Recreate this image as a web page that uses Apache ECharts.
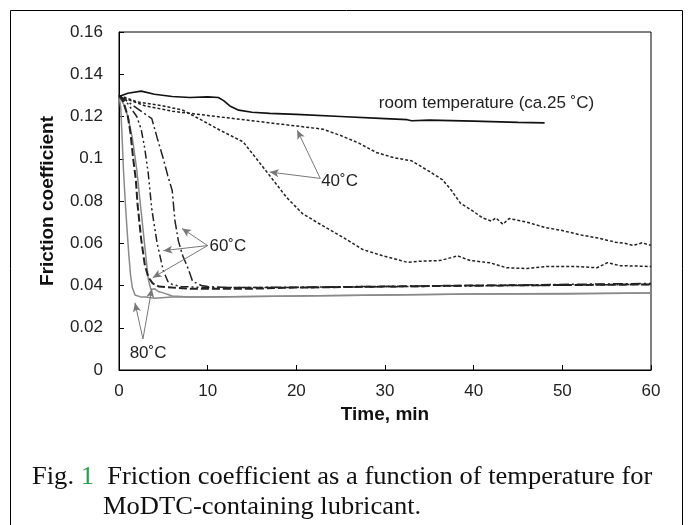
<!DOCTYPE html>
<html><head><meta charset="utf-8">
<script src="https://cdn.jsdelivr.net/npm/echarts@6/dist/echarts.min.js"></script>
<style>html,body{margin:0;padding:0;background:#fff}#c{width:692px;height:525px}</style>
</head><body><div id="c"></div>
<script>
const xTicks = [0, 10, 20, 30, 40, 50, 60];
const yTicks = [0, 0.02, 0.04, 0.06, 0.08, 0.1, 0.12, 0.14, 0.16];

const roomTemp = [[0,0.1295],[1,0.131],[2.5,0.132],[4,0.1305],[6,0.1295],[8,0.129],[10,0.1293],[11.2,0.129],[11.8,0.1275],[12.5,0.125],[13.5,0.123],[15,0.122],[17,0.1215],[20,0.121],[25,0.12],[30,0.119],[32.5,0.1185],[33,0.118],[35,0.1183],[40,0.1178],[45,0.1172],[48,0.117]];

const t40a = [[0,0.129],[1,0.128],[3,0.125],[6,0.1225],[10,0.1205],[15,0.118],[20,0.1155],[23,0.114],[25,0.111],[27,0.1075],[29,0.103],[31,0.1005],[33,0.099],[35,0.094],[36.5,0.09],[37.5,0.085],[38.5,0.079],[40,0.075],[41,0.072],[42,0.0705],[42.5,0.072],[43.3,0.069],[44,0.0717],[46,0.07],[48,0.0675],[50,0.066],[52,0.064],[54,0.0625],[56,0.0605],[57,0.06],[58,0.059],[59,0.0602],[60,0.059]];

const t40b = [[0,0.13],[2,0.127],[5,0.125],[7.2,0.123],[9,0.119],[11.4,0.1135],[14,0.108],[15.5,0.1],[17,0.092],[18.9,0.0817],[20.7,0.074],[22.7,0.069],[25.3,0.0627],[27.5,0.057],[29.8,0.054],[32.5,0.051],[34,0.0515],[36.2,0.0518],[38.2,0.054],[39.6,0.0518],[41.8,0.0508],[43.7,0.0484],[46,0.048],[48.2,0.049],[51.6,0.049],[53.9,0.0484],[55.1,0.0508],[56.5,0.0494],[60,0.049]];

const t60a = [[0,0.13],[0.5,0.127],[1,0.12],[1.3,0.112],[1.6,0.1],[1.9,0.09],[2.1,0.078],[2.5,0.062],[2.9,0.05],[3.3,0.044],[3.8,0.041],[4.5,0.0395],[6,0.039],[8,0.0385],[10,0.0385],[15,0.0385],[20,0.039],[30,0.0395],[40,0.04],[50,0.0402],[60,0.0405]];

const t60b = [[0,0.13],[1,0.126],[2,0.12],[2.5,0.114],[2.9,0.105],[3.3,0.093],[3.7,0.076],[4.3,0.06],[5,0.047],[5.5,0.042],[6,0.0405],[7,0.0395],[10,0.039],[20,0.039],[40,0.0398],[60,0.0405]];

const t60c = [[0,0.13],[1,0.127],[2,0.124],[3,0.121],[3.7,0.119],[4.3,0.11],[5,0.1],[5.5,0.092],[6,0.085],[6.3,0.071],[6.7,0.061],[7.2,0.054],[7.8,0.048],[8.3,0.042],[9.3,0.04],[10,0.0395],[12,0.039],[20,0.0392],[40,0.04],[60,0.041]];

const t80a = [[0,0.13],[0.2,0.124],[0.35,0.11],[0.5,0.095],[0.7,0.08],[0.9,0.067],[1.1,0.055],[1.3,0.045],[1.5,0.039],[1.8,0.0355],[2.5,0.0345],[3,0.0345],[4,0.034],[6,0.0345],[10,0.0345],[20,0.035],[30,0.0355],[40,0.036],[50,0.036],[60,0.0365]];

const t80b = [[0,0.13],[0.5,0.126],[1,0.12],[1.5,0.11],[2,0.095],[2.5,0.075],[3,0.055],[3.3,0.043],[3.6,0.038],[4,0.0385],[4.5,0.037],[5,0.0365],[6,0.035],[8,0.0345],[10,0.0345],[20,0.035],[40,0.036],[60,0.0365]];

const labels = [
  {name:'room temperature (ca.25 ˚C)', coord:[29.3,0.1262]},
  {name:'40˚C', coord:[22.8,0.0893]},
  {name:'60˚C', coord:[10.2,0.0587]},
  {name:'80˚C', coord:[1.2,0.0078]}
];
const arrows = [
  [[22.7,0.0907],[20.1,0.1135]],
  [[22.7,0.0907],[17.0,0.0937]],
  [[10.0,0.0589],[7.1,0.067]],
  [[10.0,0.0589],[5.0,0.0565]],
  [[10.0,0.0589],[3.8,0.0437]],
  [[2.7,0.0147],[1.8,0.0318]],
  [[2.7,0.0147],[3.7,0.0385]]
];

const chart = echarts.init(document.getElementById('c'), null, {renderer:'canvas'});
const F = 'Liberation Sans, Arial, sans-serif';
const SERIF = '"Liberation Serif", "Times New Roman", serif';
function line(data, color, width, type){
  return {type:'line', data, showSymbol:false, symbol:'none', smooth:false,
    lineStyle:{color, width, type}, animation:false, z:3};
}
chart.setOption({
  animation:false,
  grid:{left:119, right:41, top:32, bottom:155, show:true, borderColor:'#000', borderWidth:1},
  xAxis:{type:'value', min:0, max:60, interval:10,
    name:'Time, min', nameLocation:'middle', nameGap:32,
    nameTextStyle:{fontFamily:F, fontSize:19, fontWeight:'bold', color:'#111'},
    axisLine:{lineStyle:{color:'#000', width:1}},
    axisTick:{inside:true, length:5, lineStyle:{color:'#000'}},
    axisLabel:{fontFamily:F, fontSize:17, color:'#222', margin:13,
      formatter: v => xTicks.includes(v) ? String(v) : ''},
    splitLine:{show:false}},
  yAxis:{type:'value', min:0, max:0.16, interval:0.02,
    name:'Friction coefficient', nameLocation:'middle', nameGap:62,
    nameTextStyle:{fontFamily:F, fontSize:19, fontWeight:'bold', color:'#111'},
    axisLine:{show:true, lineStyle:{color:'#000', width:1}},
    axisTick:{show:true, inside:true, length:5, lineStyle:{color:'#000'}},
    axisLabel:{fontFamily:F, fontSize:17, color:'#222', margin:16,
      formatter: v => { const m = yTicks.find(t => Math.abs(t - v) < 1e-9); return m === undefined ? '' : String(+m.toFixed(2)); }},
    splitLine:{show:false}},
  series:[
    line(t80a, '#8a8a8a', 1.5, 'solid'),
    line(t80b, '#8a8a8a', 1.5, 'solid'),
    line(t60a, '#222', 2, [8,3]),
    line(t60b, '#222', 1.5, [8,3,2,3,2,3]),
    line(t60c, '#222', 1.5, [10,3,2,3]),
    line(t40a, '#222', 1.5, [3,2]),
    line(t40b, '#222', 1.5, [3,2]),
    line(roomTemp, '#111', 1.6, 'solid'),
    {type:'line', data:[], symbol:'none', animation:false,
      markLine:{silent:true, symbol:['none','arrow'], symbolSize:[6,9],
        lineStyle:{color:'#777', width:1, type:'solid'}, label:{show:false},
        data: arrows.map(a => [{coord:a[0]},{coord:a[1]}])},
      markPoint:{silent:true, symbol:'circle', symbolSize:0,
        label:{show:true, position:'right', distance:0, formatter:'{b}',
          fontFamily:F, fontSize:17, color:'#222'},
        data: labels.map(l => ({name:l.name, coord:l.coord}))}
    }
  ],
  graphic:[
    {type:'rect', shape:{x:10.5, y:10.5, width:672, height:530}, style:{fill:'none', stroke:'#000', lineWidth:1}, silent:true},
    {type:'text', x:32, y:464, scaleX:1.02, silent:true,
      style:{verticalAlign:'top', fontFamily:SERIF, fontSize:26, fill:'#111',
        rich:{g:{fill:'#2e9e4f', fontFamily:SERIF, fontSize:26}, n:{fill:'#111', fontFamily:SERIF, fontSize:26}},
        text:'{n|Fig. }{g|1}{n|  Friction coefficient as a function of temperature for}'}},
    {type:'text', x:103, y:494, scaleX:1.02, silent:true,
      style:{verticalAlign:'top', fill:'#111', fontFamily:SERIF, fontSize:26, text:'MoDTC-containing lubricant.'}}
  ]
});
</script></body></html>
